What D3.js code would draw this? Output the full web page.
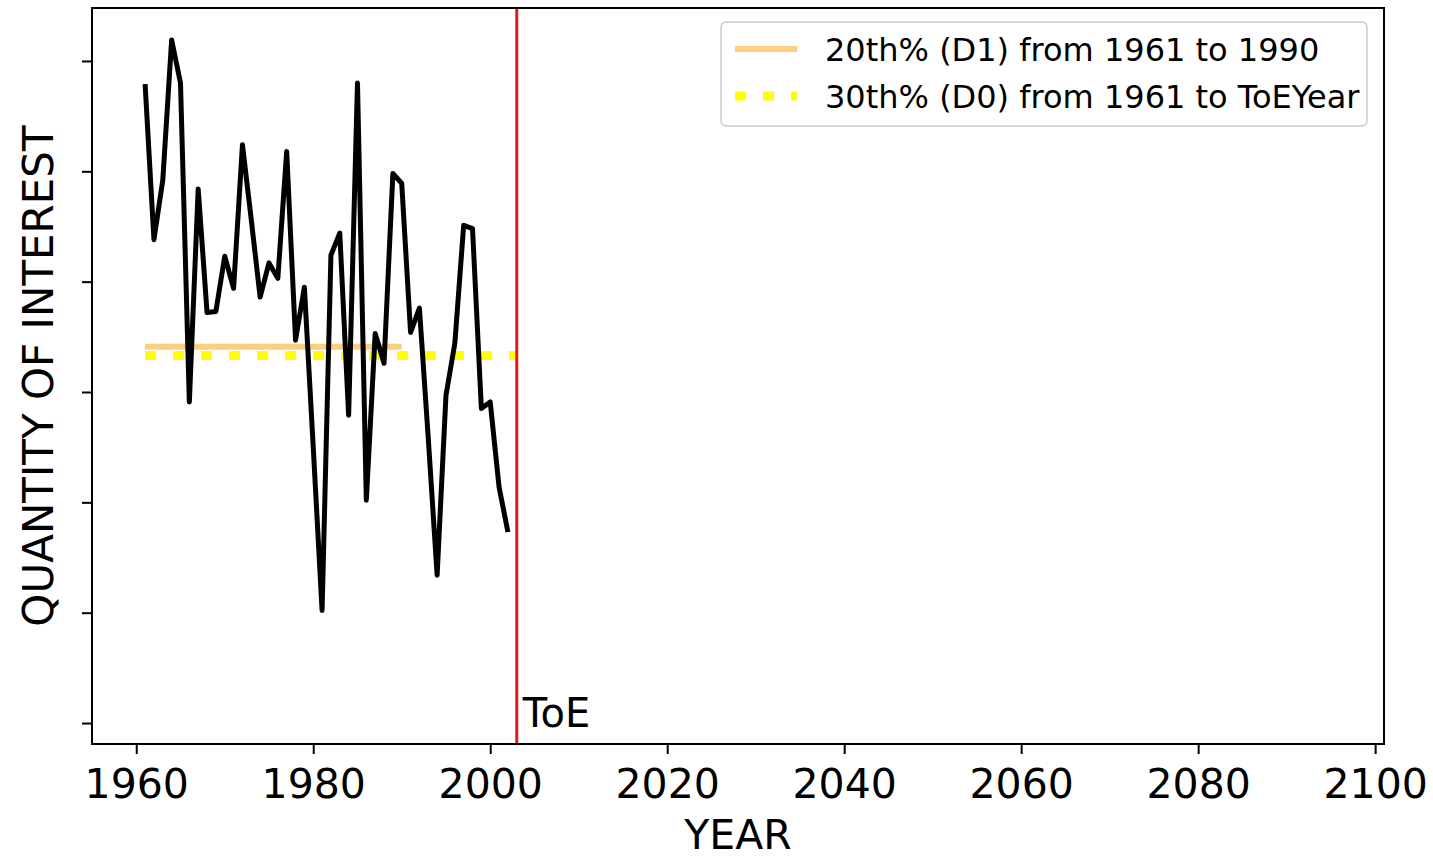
<!DOCTYPE html>
<html>
<head>
<meta charset="utf-8">
<script src="https://cdn.jsdelivr.net/npm/d3@7"></script>
<style>
  body { margin: 0; background: #fff; }
  text { font-family: "DejaVu Sans", sans-serif; }
</style>
</head>
<body>
<div id="chart"></div>
<script>
// yearly values (arbitrary units)
const years = d3.range(1961, 2003);
const values = [5.79, 4.38, 4.92, 6.19, 5.80, 2.91, 4.84, 3.72, 3.73, 4.23,
                3.94, 5.24, 4.56, 3.86, 4.17, 4.03, 5.18, 3.47, 3.95, 2.50,
                1.02, 4.24, 4.44, 2.79, 5.80, 2.02, 3.53, 3.26, 4.98, 4.89,
                3.54, 3.76, 2.58, 1.34, 2.97, 3.44, 4.51, 4.48, 2.85, 2.91,
                2.14, 1.73];
const d1Range = [1961, 1990];
const d1Value = 3.41;
const d0Range = [1961, 2003];
const d0Value = 3.33;
const toeYear = 2003;
const xTicks = [1960, 1980, 2000, 2020, 2040, 2060, 2080, 2100];
const yTicks = [0, 1, 2, 3, 4, 5, 6];
const legendLabels = ["20th% (D1) from 1961 to 1990", "30th% (D0) from 1961 to ToEYear"];

const width = 1433, height = 858;
const margin = {top: 8, right: 49, bottom: 114, left: 92};

const svg = d3.select("#chart").append("svg")
    .attr("width", width)
    .attr("height", height);

const x = d3.scaleLinear()
    .domain([1955, 2101])
    .range([margin.left, width - margin.right]);

const y = d3.scaleLinear()
    .domain([-0.19, 6.48])
    .range([height - margin.bottom, margin.top]);

// axes
svg.append("g")
    .attr("transform", `translate(0, ${height - margin.bottom})`)
    .call(d3.axisBottom(x).tickValues(xTicks).tickFormat(d3.format("d")).tickSize(10).tickPadding(15))
    .call(g => g.select(".domain").remove())
    .call(g => g.selectAll("line").attr("stroke-width", 2))
    .call(g => g.selectAll("text").attr("font-size", 41).attr("fill", "#000"));

svg.append("g")
    .attr("transform", `translate(${margin.left}, 0)`)
    .call(d3.axisLeft(y).tickValues(yTicks).tickFormat("").tickSize(10))
    .call(g => g.select(".domain").remove())
    .call(g => g.selectAll("line").attr("stroke-width", 2));

// plot lines
const line = d3.line()
    .x((d, i) => x(years[i]))
    .y(d => y(d));

svg.append("line")
    .attr("x1", x(d0Range[0])).attr("x2", x(d0Range[1]))
    .attr("y1", y(d0Value)).attr("y2", y(d0Value))
    .attr("stroke", "#ffff00")
    .attr("stroke-width", 9)
    .attr("stroke-dasharray", "11 17");

svg.append("line")
    .attr("x1", x(d1Range[0])).attr("x2", x(d1Range[1]))
    .attr("y1", y(d1Value)).attr("y2", y(d1Value))
    .attr("stroke", "#fbcf7e")
    .attr("stroke-width", 6);

svg.append("path")
    .datum(values)
    .attr("d", line)
    .attr("fill", "none")
    .attr("stroke", "#000")
    .attr("stroke-width", 5)
    .attr("stroke-linejoin", "round");

svg.append("line")
    .attr("x1", x(toeYear)).attr("x2", x(toeYear))
    .attr("y1", margin.top).attr("y2", height - margin.bottom)
    .attr("stroke", "#e31a1c")
    .attr("stroke-width", 3);

svg.append("text")
    .attr("x", x(toeYear) + 6)
    .attr("y", height - margin.bottom - 17)
    .attr("font-size", 40)
    .text("ToE");

// frame
svg.append("rect")
    .attr("x", margin.left).attr("y", margin.top)
    .attr("width", width - margin.left - margin.right)
    .attr("height", height - margin.top - margin.bottom)
    .attr("fill", "none")
    .attr("stroke", "#000")
    .attr("stroke-width", 2);

// axis labels
svg.append("text")
    .attr("x", (margin.left + width - margin.right) / 2)
    .attr("y", 849)
    .attr("text-anchor", "middle")
    .attr("font-size", 41)
    .text("YEAR");

svg.append("text")
    .attr("transform", `translate(53, ${(margin.top + height - margin.bottom) / 2}) rotate(-90)`)
    .attr("text-anchor", "middle")
    .attr("font-size", 42)
    .text("QUANTITY OF INTEREST");

// legend
const legend = svg.append("g").attr("transform", "translate(721, 22)");
legend.append("rect")
    .attr("width", 646).attr("height", 104)
    .attr("rx", 5)
    .attr("fill", "#fff")
    .attr("stroke", "#ccc")
    .attr("stroke-width", 1.5);

legend.append("line")
    .attr("x1", 14).attr("x2", 76).attr("y1", 27).attr("y2", 27)
    .attr("stroke", "#fbcf7e").attr("stroke-width", 6);
legend.append("line")
    .attr("x1", 14).attr("x2", 76).attr("y1", 74).attr("y2", 74)
    .attr("stroke", "#ffff00").attr("stroke-width", 9)
    .attr("stroke-dasharray", "11 17");

legendLabels.forEach((label, i) => {
    legend.append("text")
        .attr("x", 104)
        .attr("y", 28 + i * 47)
        .attr("dy", "0.35em")
        .attr("font-size", 32)
        .text(label);
});
</script>
</body>
</html>
